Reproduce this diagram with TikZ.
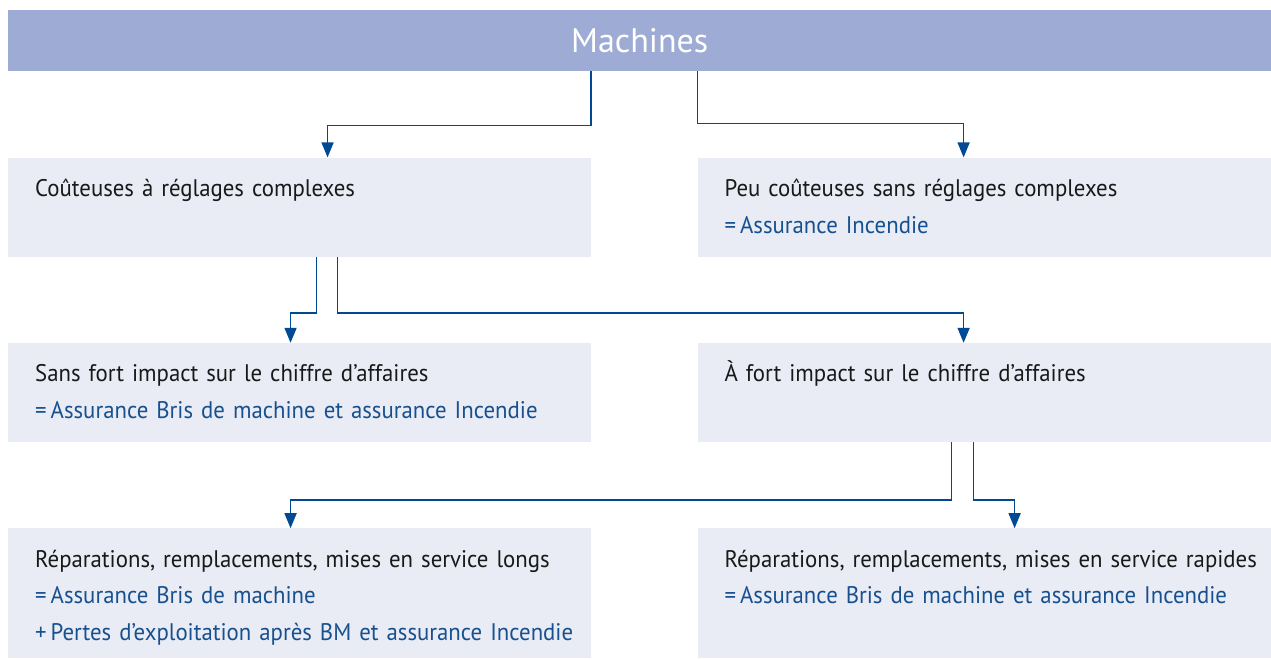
\documentclass[tikz,border=0pt]{standalone}
\usepackage{fontspec}
\setmainfont{PT Sans}
\newfontfamily\bodyfont{PT Sans}[FakeStretch=0.95]
\usepackage{xcolor}
\usetikzlibrary{positioning,arrows.meta}
\definecolor{bannerfill}{HTML}{9EACD5}
\definecolor{boxfill}{HTML}{E9ECF5}
\definecolor{linkblue}{HTML}{004A93}
\definecolor{textblue}{HTML}{17508F}
\newcommand{\blueline}[1]{\textcolor{textblue}{#1}}

\begin{document}
\begin{tikzpicture}[
banner/.style={fill=bannerfill,text=white,minimum width=1263pt,minimum height=60.7pt,inner sep=0pt,font=\fontsize{34}{40}\selectfont},
box/.style={fill=boxfill,inner xsep=10pt,inner ysep=0pt,text height=39pt,text depth=60pt,align=left,anchor=north west,text=black!90,
    font=\bodyfont\fontsize{24}{36.5}\selectfont,execute at begin node={\leftskip=17pt\rightskip=-40pt plus 1fil\relax}},
leftbox/.style={box,text width=562.7pt},
rightbox/.style={box,text width=554pt},
tallbox/.style={text depth=91pt},
link/.style={draw=linkblue,line width=1.6pt,-{Triangle[length=15pt,width=12pt]}}]
\useasboundingbox (0,0) rectangle (1271pt,659pt);
\node (machines) [banner,anchor=north west] at (8pt,649pt) {Machines};
\node (costly) [below=86.3pt of machines.south west,leftbox] {Coûteuses à réglages complexes};
\node (cheap) [right=106.3pt of costly.north east,rightbox] {Peu coûteuses sans réglages complexes\\
    \blueline{=\,Assurance Incendie}};
\node (lowimpact) [below=86pt of costly.south west,leftbox] {Sans fort impact sur le chiffre d’affaires\\
    \blueline{=\,Assurance Bris de machine et assurance Incendie}};
\node (highimpact) [below=86pt of cheap.south west,rightbox] {À fort impact sur le chiffre d’affaires};
\node (longrep) [below=86pt of lowimpact.south west,leftbox,tallbox] {Réparations, remplacements, mises en service longs\\
    \blueline{=\,Assurance Bris de machine}\\
    \blueline{+\,Pertes d’exploitation après BM et assurance Incendie}};
\node (fastrep) [below=86pt of highimpact.south west,rightbox,tallbox] {Réparations, remplacements, mises en service rapides\\
    \blueline{=\,Assurance Bris de machine et assurance Incendie}};
\draw [link] (machines.south -| costly.east) |- ([xshift=28pt,yshift=32pt]costly.north) -- ([xshift=28pt]costly.north);
\draw [link] (machines.south -| cheap.west) |- ([xshift=-21pt,yshift=34pt]cheap.north) -- ([xshift=-21pt]cheap.north);
\draw [link] ([xshift=17pt]costly.south) |- ([xshift=-9pt,yshift=30pt]lowimpact.north) -- ([xshift=-9pt]lowimpact.north);
\draw [link] ([xshift=38pt]costly.south) |- ([xshift=-21pt,yshift=30pt]highimpact.north) -- ([xshift=-21pt]highimpact.north);
\draw [link] ([xshift=-33pt]highimpact.south) |- ([xshift=-9pt,yshift=28pt]longrep.north) -- ([xshift=-9pt]longrep.north);
\draw [link] ([xshift=-11pt]highimpact.south) |- ([xshift=30pt,yshift=28pt]fastrep.north) -- ([xshift=30pt]fastrep.north);
\end{tikzpicture}
\end{document}
